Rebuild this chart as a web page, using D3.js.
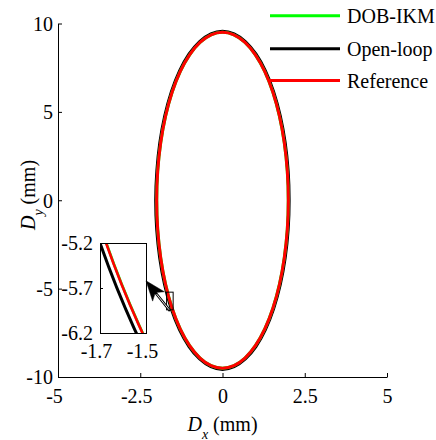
<!DOCTYPE html>
<html><head><meta charset="utf-8">
<script src="https://cdn.jsdelivr.net/npm/d3@7"></script>
<style>
html,body{margin:0;padding:0;background:#fff;}
svg text, svg tspan{font-family:"Liberation Serif","DejaVu Serif",serif !important;}
</style></head>
<body><svg id="c" width="436" height="440"></svg>
<script>
// ---- data (mm) ----
const seriesNames = ["DOB-IKM", "Open-loop", "Reference"];
const seriesColors = ["#00ff00", "#000000", "#ff0000"];
const refX = [2.000,1.970,1.879,1.732,1.532,1.286,1.000,0.684,0.347,0.000,-0.347,-0.684,-1.000,-1.286,-1.532,-1.732,-1.879,-1.970,
              -2.000,-1.970,-1.879,-1.732,-1.532,-1.286,-1.000,-0.684,-0.347,0.000,0.347,0.684,1.000,1.286,1.532,1.732,1.879,1.970];
const refY = [0.000,1.649,3.249,4.750,6.107,7.277,8.227,8.927,9.356,9.500,9.356,8.927,8.227,7.277,6.107,4.750,3.249,1.649,
              0.000,-1.649,-3.249,-4.750,-6.107,-7.277,-8.227,-8.927,-9.356,-9.500,-9.356,-8.927,-8.227,-7.277,-6.107,-4.750,-3.249,-1.649];
const openX = [2.020,1.990,1.899,1.750,1.548,1.300,1.011,0.691,0.351,0.000,-0.351,-0.691,-1.011,-1.300,-1.548,-1.750,-1.899,-1.990,
               -2.025,-1.994,-1.903,-1.755,-1.553,-1.304,-1.013,-0.692,-0.351,0.000,0.351,0.691,1.011,1.300,1.548,1.750,1.899,1.990];
const openY = [0.000,1.658,3.266,4.775,6.139,7.315,8.270,8.974,9.405,9.550,9.405,8.974,8.270,7.315,6.139,4.775,3.266,1.658,
               0.000,-1.658,-3.266,-4.775,-6.139,-7.315,-8.270,-8.974,-9.405,-9.560,-9.405,-8.974,-8.270,-7.315,-6.139,-4.775,-3.266,-1.658];
const dobX = [1.999,1.969,1.878,1.731,1.531,1.285,0.999,0.683,0.347,0.000,-0.347,-0.683,-0.999,-1.285,-1.531,-1.731,-1.878,-1.969,
              -1.999,-1.969,-1.878,-1.731,-1.531,-1.285,-0.999,-0.683,-0.347,0.000,0.347,0.683,0.999,1.285,1.531,1.731,1.878,1.969];
const dobY = [0.000,1.649,3.248,4.749,6.106,7.276,8.226,8.926,9.355,9.499,9.355,8.926,8.226,7.276,6.106,4.749,3.248,1.649,
              0.000,-1.649,-3.248,-4.749,-6.106,-7.276,-8.226,-8.926,-9.355,-9.499,-9.355,-8.926,-8.226,-7.276,-6.106,-4.749,-3.248,-1.649];
const xTicks = [-5, -2.5, 0, 2.5, 5];
const yTicks = [-10, -5, 0, 5, 10];
const zoomXTicks = [-1.7, -1.5];
const zoomYTicks = [-5.2, -5.7, -6.2];
const arrowTail = [-1.595, -6.26];   // data coords (main plot)
const arrowTipZoom = [-1.5, -5.62];  // inset coords

// ---- layout ----
const svg = d3.select("#c");
const x = d3.scaleLinear().domain([-5, 5]).range([58, 387]);
const y = d3.scaleLinear().domain([-10, 10]).range([377, 23.5]);
const ix = d3.scaleLinear().domain([-1.7, -1.5]).range([100, 146]);
const iy = d3.scaleLinear().domain([-5.2, -6.2]).range([243, 333]);

const seriesData = [
  d3.zip(dobX, dobY),
  d3.zip(openX, openY),
  d3.zip(refX, refY)
];
const curve = d3.curveCardinalClosed.tension(0);
const drawOrder = [1, 0, 2];
const widths = [3, 3.4, 3];

// main lines
const lineMain = d3.line().x(d => x(d[0])).y(d => y(d[1])).curve(curve);
svg.append("g").selectAll("path").data(drawOrder).join("path")
  .attr("d", i => lineMain(seriesData[i]))
  .attr("fill", "none")
  .attr("stroke", i => seriesColors[i])
  .attr("stroke-width", i => widths[i])
  .attr("stroke-linejoin", "round");

// axes
const gx = svg.append("g").attr("transform", "translate(0,377)")
  .call(d3.axisBottom(x).tickValues(xTicks).tickSize(-4).tickSizeOuter(0).tickFormat(d => String(d)));
gx.selectAll("text").attr("y", 26).attr("dy", 0).attr("dx", d => d < 0 ? -4 : 0);
const gy = svg.append("g").attr("transform", "translate(58,0)")
  .call(d3.axisLeft(y).tickValues(yTicks).tickSize(-4).tickSizeOuter(0).tickFormat(d => String(d)));
gy.selectAll("text").attr("x", -5).attr("dy", "0.34em");

// axis labels
const xl = svg.append("text").attr("x", 222.5).attr("y", 430.5).attr("text-anchor", "middle");
xl.append("tspan").attr("font-style", "italic").text("D");
xl.append("tspan").attr("class", "sub").attr("font-style", "italic").attr("dy", 8).text("x");
xl.append("tspan").attr("dy", -8).text(" (mm)");
const yl = svg.append("text").attr("transform", "translate(35,195) rotate(-90)").attr("text-anchor", "middle");
yl.append("tspan").attr("font-style", "italic").text("D");
yl.append("tspan").attr("class", "sub").attr("font-style", "italic").attr("dy", 8).text("y");
yl.append("tspan").attr("dy", -8).text(" (mm)");

// zoom-region box in main plot
svg.append("rect")
  .attr("x", x(zoomXTicks[0])).attr("y", y(zoomYTicks[0]))
  .attr("width", x(zoomXTicks[1]) - x(zoomXTicks[0]))
  .attr("height", y(zoomYTicks[2]) - y(zoomYTicks[0]))
  .attr("fill", "none").attr("stroke", "#000").attr("stroke-width", 1);

// inset
const iw = ix.range()[1] - ix.range()[0], ih = iy.range()[1] - iy.range()[0];
svg.append("defs").append("clipPath").attr("id", "clipZ").append("rect")
  .attr("x", ix.range()[0]).attr("y", iy.range()[0]).attr("width", iw).attr("height", ih);
svg.append("rect").attr("x", ix.range()[0]).attr("y", iy.range()[0])
  .attr("width", iw).attr("height", ih).attr("fill", "#fff");
const lineZoom = d3.line().x(d => ix(d[0])).y(d => iy(d[1])).curve(curve);
svg.append("g").attr("clip-path", "url(#clipZ)").selectAll("path").data(drawOrder).join("path")
  .attr("d", i => lineZoom(seriesData[i]))
  .attr("fill", "none")
  .attr("stroke", i => seriesColors[i])
  .attr("stroke-width", i => i === 1 ? 3 : 2.6);
const zgx = svg.append("g").attr("transform", `translate(0,${iy.range()[1]})`)
  .call(d3.axisBottom(ix).tickValues(zoomXTicks).tickSize(-3).tickSizeOuter(0).tickFormat(d => d.toFixed(1)));
zgx.selectAll("text").attr("y", 25).attr("dy", 0).attr("dx", -4);
const zgy = svg.append("g").attr("transform", `translate(${ix.range()[0]},0)`)
  .call(d3.axisLeft(iy).tickValues(zoomYTicks).tickSize(-3).tickSizeOuter(0).tickFormat(d => d.toFixed(1)));
zgy.selectAll("text").attr("x", -7).attr("dy", "0.34em");
svg.append("rect").attr("x", ix.range()[0] + 0.5).attr("y", iy.range()[0] + 0.5)
  .attr("width", iw).attr("height", ih)
  .attr("fill", "none").attr("stroke", "#000");

// arrow
const tx = x(arrowTail[0]), ty = y(arrowTail[1]);
const hx = ix(arrowTipZoom[0]), hy = iy(arrowTipZoom[1]);
const ang = Math.atan2(ty - hy, tx - hx);
const ca = Math.cos(ang), sa = Math.sin(ang);
const P = (a, b) => [hx + a * ca - b * sa, hy + a * sa + b * ca];
svg.append("line").attr("x1", tx).attr("y1", ty).attr("x2", P(14, 0)[0]).attr("y2", P(14, 0)[1])
  .attr("stroke", "#000").attr("stroke-width", 2.6);
svg.append("line").attr("x1", tx - 1.5 * ca).attr("y1", ty - 1.5 * sa).attr("x2", P(17, 0)[0]).attr("y2", P(17, 0)[1])
  .attr("stroke", "#fff").attr("stroke-width", 0.9);
svg.append("polygon")
  .attr("points", [P(0, 0), P(20, -7.5), P(15, 0), P(20, 7.5)].map(p => p.join(",")).join(" "))
  .attr("fill", "#000").attr("stroke", "#000").attr("stroke-width", 0.5);

// legend
const legY = [15.7, 48.7, 80.5];
const leg = svg.append("g").selectAll("g").data(seriesNames).join("g")
  .attr("transform", (d, i) => `translate(0,${legY[i]})`);
leg.append("line").attr("x1", 270).attr("x2", 340).attr("y1", 0).attr("y2", 0)
  .attr("stroke", (d, i) => seriesColors[i]).attr("stroke-width", 3);
leg.append("text").attr("x", 347).attr("y", 7).text(d => d);

// common styling
svg.selectAll(".domain, .tick line").attr("stroke", "#000");
svg.selectAll("g").attr("font-family", null).attr("font-size", null);
svg.selectAll("text").attr("font-size", 20).attr("fill", "#000");
svg.selectAll("tspan.sub").attr("font-size", 14);
</script></body></html>
